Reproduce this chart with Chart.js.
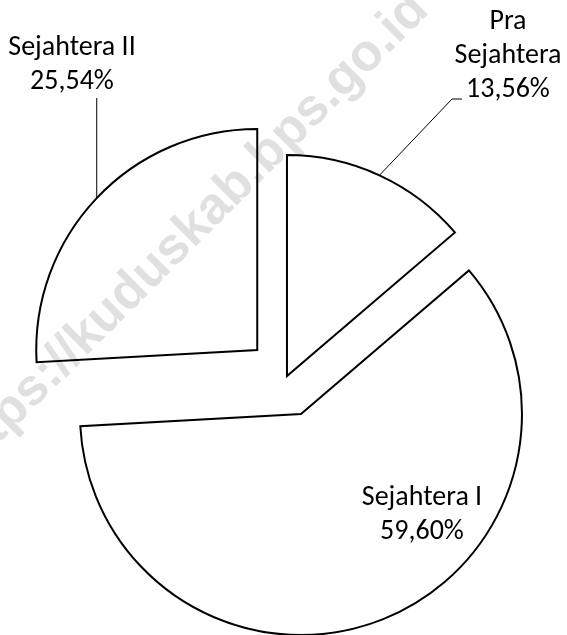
<!DOCTYPE html>
<html>
<head>
<meta charset="utf-8">
<script src="https://cdn.jsdelivr.net/npm/chart.js@4/dist/chart.umd.min.js"></script>
<style>
  html, body { margin: 0; padding: 0; background: #ffffff; }
  #wrap { position: relative; width: 567px; height: 635px; overflow: hidden; background: #ffffff; }
  #c { position: absolute; left: 0; top: 0; }
  .lbl {
    position: absolute;
    font-family: Carlito, Calibri, Lato, "Open Sans", sans-serif;
    font-size: 28px;
    line-height: 34px;
    color: #000000;
    text-align: center;
    white-space: nowrap;
    transform: translateX(-50%);
  }
  .wm {
    position: absolute;
    font-family: "Liberation Sans", Arial, sans-serif;
    font-weight: bold;
    font-size: 52px;
    color: rgba(0, 0, 0, 0.12);
    white-space: nowrap;
    pointer-events: none;
    transform-origin: 50% 50%;
  }
</style>
</head>
<body>
<div id="wrap">
  <canvas id="c" width="567" height="635"></canvas>
</div>
<script>
// ---- data ----
const categories = ["Pra Sejahtera", "Sejahtera I", "Sejahtera II"];
const shares = [13.56, 59.60, 25.54];
// label text lines (Excel wrapped the first category name)
const labelLines = [["Pra", "Sejahtera"], ["Sejahtera I"], ["Sejahtera II"]];

// ---- style / layout ----
const explode = [1.6, 39.4, 40];              // px each slice is pulled out
const labelPos = [[508, 3], [422, 479], [72, 29]]; // label centre x, top y
const leaders = [
  { pts: [[452, 99], [462, 99]] },   // Pra Sejahtera: elbow leader
  null,                              // Sejahtera I: label inside
  { vertical: 98 }                   // Sejahtera II: straight up
];

const wrap = document.getElementById('wrap');

function fmt(v) { return v.toFixed(2).replace('.', ',') + '%'; }

categories.forEach((c, i) => {
  const d = document.createElement('div');
  d.className = 'lbl';
  d.style.left = labelPos[i][0] + 'px';
  d.style.top = labelPos[i][1] + 'px';
  d.innerHTML = labelLines[i].concat([fmt(shares[i])]).join('<br>');
  wrap.appendChild(d);
});

const explodePlugin = {
  id: 'explode',
  afterDatasetsUpdate(chart) {
    const meta = chart.getDatasetMeta(0);
    meta.data.forEach((arc, i) => {
      const mid = (arc.startAngle + arc.endAngle) / 2;
      const d = explode[i] || 0;
      arc.x += Math.cos(mid) * d;
      arc.y += Math.sin(mid) * d;
    });
  }
};

const leaderPlugin = {
  id: 'leaders',
  afterDatasetsDraw(chart) {
    const ctx = chart.ctx;
    const meta = chart.getDatasetMeta(0);
    ctx.save();
    ctx.strokeStyle = '#000';
    ctx.lineWidth = 1;
    meta.data.forEach((arc, i) => {
      const L = leaders[i];
      if (!L) return;
      const mid = (arc.startAngle + arc.endAngle) / 2;
      const r = arc.outerRadius;
      const x0 = arc.x + Math.cos(mid) * r;
      const y0 = arc.y + Math.sin(mid) * r;
      ctx.beginPath();
      ctx.moveTo(x0, y0);
      if (L.pts) {
        L.pts.forEach(p => ctx.lineTo(p[0], p[1]));
      } else if (L.vertical !== undefined) {
        ctx.lineTo(x0, L.vertical);
      }
      ctx.stroke();
    });
    ctx.restore();
  }
};

new Chart(document.getElementById('c'), {
  type: 'pie',
  data: {
    labels: categories,
    datasets: [{
      data: shares,
      backgroundColor: '#ffffff',
      borderColor: '#000000',
      borderWidth: 2,
      borderJoinStyle: 'miter',
      radius: 221
    }]
  },
  options: {
    responsive: false,
    animation: false,
    events: [],
    layout: { padding: { left: 5.6, right: 0, top: 120, bottom: 0 } },
    plugins: { legend: { display: false }, tooltip: { enabled: false } }
  },
  plugins: [explodePlugin, leaderPlugin]
});

// watermark
const wm = document.createElement('div');
wm.className = 'wm';
wm.textContent = 'https://kuduskab.bps.go.id';
wrap.appendChild(wm);
const w = wm.offsetWidth, h = wm.offsetHeight;
wm.style.left = (184 - w / 2) + 'px';
wm.style.top = (233 - h / 2) + 'px';
wm.style.transform = 'rotate(-45deg)';
</script>
</body>
</html>
